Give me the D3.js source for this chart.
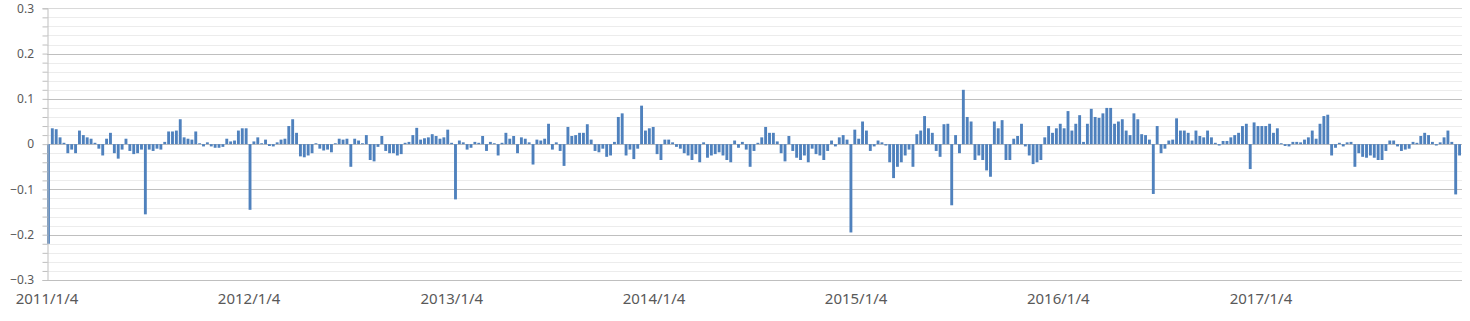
<!DOCTYPE html>
<html>
    <head>
        <title>Weekly returns</title>
        <meta charset="utf-8">
        <script src="https://cdnjs.cloudflare.com/ajax/libs/d3/7.8.5/d3.min.js"></script>
        <style>
            body{
                margin:0;
                background:#fff;
            }
            text{
                font-family:"Noto Sans", sans-serif;
                fill:#595959;
            }
        </style>
    </head>
    <body>
        <script>

            // first trading week of the series, then one value per week
            var startDate = "2011/1/4";

            var weekValues = [
                -0.22, 0.035, 0.033, 0.015, 0.003, -0.02, -0.012, -0.02, 0.03, 0.02,
                0.015, 0.012, 0.003, -0.01, -0.025, 0.012, 0.025, -0.02, -0.032, -0.012,
                0.012, -0.015, -0.022, -0.02, -0.012, -0.155, -0.012, -0.015, -0.01, -0.012,
                0.005, 0.028, 0.028, 0.03, 0.055, 0.015, 0.012, 0.01, 0.028, 0.002,
                -0.005, 0.004, -0.005, -0.008, -0.008, -0.006, 0.012, 0.006, 0.008, 0.03,
                0.035, 0.035, -0.145, 0.006, 0.015, 0.002, 0.01, -0.004, -0.005, 0.004,
                0.01, 0.012, 0.04, 0.055, 0.025, -0.027, -0.029, -0.025, -0.02, 0.002,
                -0.01, -0.014, -0.012, -0.018, 0.002, 0.012, 0.01, 0.012, -0.05, 0.012,
                0.008, 0.002, 0.02, -0.035, -0.038, -0.006, 0.018, -0.015, -0.02, -0.02,
                -0.025, -0.022, 0.003, 0.005, 0.02, 0.036, 0.01, 0.013, 0.015, 0.022,
                0.018, 0.012, 0.015, 0.032, 0.003, -0.122, 0.008, 0.004, -0.012, -0.008,
                0.005, 0.003, 0.018, -0.015, 0.005, 0.002, -0.025, 0.003, 0.025, 0.012,
                0.018, -0.02, 0.015, 0.012, 0.004, -0.045, 0.01, 0.008, 0.012, 0.045,
                -0.012, 0.004, -0.015, -0.048, 0.038, 0.018, 0.02, 0.025, 0.025, 0.044,
                0.01, -0.015, -0.018, -0.01, -0.028, -0.025, 0.005, 0.06, 0.068, -0.025,
                -0.012, -0.033, -0.01, 0.085, 0.03, 0.035, 0.038, -0.022, -0.035, 0.01,
                0.01, 0.004, -0.006, -0.01, -0.02, -0.025, -0.035, -0.022, -0.04, 0.004,
                -0.03, -0.025, -0.022, -0.018, -0.025, -0.035, -0.04, 0.008, -0.008, 0.005,
                -0.012, -0.05, -0.015, 0.003, 0.015, 0.038, 0.025, 0.025, 0.006, -0.02,
                -0.038, 0.018, -0.015, -0.03, -0.035, -0.025, -0.04, -0.01, -0.022, -0.025,
                -0.035, -0.015, 0.008, -0.005, 0.015, 0.02, 0.01, -0.195, 0.032, 0.012,
                0.05, 0.03, -0.015, -0.005, 0.008, 0.004, -0.003, -0.04, -0.075, -0.05,
                -0.04, -0.025, -0.012, -0.05, 0.022, 0.03, 0.062, 0.035, 0.025, -0.015,
                -0.028, 0.044, 0.045, -0.135, 0.02, -0.02, 0.12, 0.06, 0.05, -0.035,
                -0.025, -0.035, -0.058, -0.072, 0.05, 0.035, 0.053, -0.035, -0.035, 0.012,
                0.018, 0.045, -0.005, -0.025, -0.044, -0.04, -0.035, 0.015, 0.04, 0.025,
                0.035, 0.045, 0.035, 0.073, 0.03, 0.045, 0.064, 0.005, 0.045, 0.078,
                0.06, 0.058, 0.068, 0.08, 0.08, 0.045, 0.05, 0.055, 0.03, 0.02,
                0.068, 0.055, 0.022, 0.02, 0.01, -0.11, 0.04, -0.02, -0.01, 0.008,
                0.01, 0.057, 0.03, 0.03, 0.025, 0.008, 0.03, 0.018, 0.015, 0.03,
                0.015, 0.003, -0.003, 0.007, 0.007, 0.015, 0.02, 0.025, 0.04, 0.045,
                -0.055, 0.048, 0.04, 0.04, 0.04, 0.045, 0.025, 0.035, 0.002, -0.004,
                -0.005, 0.005, 0.005, 0.004, 0.01, 0.015, 0.03, 0.012, 0.045, 0.062,
                0.065, -0.025, -0.008, 0.003, -0.005, 0.004, 0.005, -0.05, -0.02, -0.028,
                -0.03, -0.025, -0.03, -0.035, -0.035, -0.015, 0.008, 0.008, -0.005, -0.015,
                -0.012, -0.01, 0.005, 0.003, 0.018, 0.025, 0.02, 0.005, -0.003, 0.004,
                0.015, 0.03, 0.005, -0.111, -0.025
            ];

            var xTickLabels = ["2011/1/4", "2012/1/4", "2013/1/4", "2014/1/4", "2015/1/4", "2016/1/4", "2017/1/4"];
            var yMajorTicks = [0.3, 0.2, 0.1, 0, -0.1, -0.2, -0.3];

            //Width and height
            var width = 1470;
            var height = 321;
            var margin = {top: 8.3, right: 8, bottom: 41, left: 47};

            var parse = d3.timeParse("%Y/%m/%d");
            var start = parse(startDate);

            var data = weekValues.map(function(v, i) {
              return {date: d3.timeDay.offset(start, 7 * i), value: v};
            });

            var x = d3.scaleTime()
                    .domain([start, d3.timeDay.offset(start, 7 * weekValues.length)])
                    .range([margin.left, width - margin.right]);

            var y = d3.scaleLinear()
                    .domain([-0.3, 0.3])
                    .range([height - margin.bottom, margin.top]);

            var svg = d3.select("body")
                    .append("svg")
                    .attr("width", width)
                    .attr("height", height);

            // minor grid every 0.02
            var minorTicks = d3.range(-15, 16).map(function(k) { return k / 50; });

            svg.append("g")
                    .selectAll("line")
                    .data(minorTicks.filter(function(t) { return Math.abs(Math.round(t * 10) - t * 10) > 1e-6; }))
                    .enter()
                    .append("line")
                    .attr("x1", margin.left)
                    .attr("x2", width - margin.right)
                    .attr("y1", function(d) { return Math.round(y(d)) + 0.5; })
                    .attr("y2", function(d) { return Math.round(y(d)) + 0.5; })
                    .attr("stroke", "#ececec");

            // major grid every 0.1
            svg.append("g")
                    .selectAll("line")
                    .data(yMajorTicks)
                    .enter()
                    .append("line")
                    .attr("x1", margin.left)
                    .attr("x2", width - margin.right)
                    .attr("y1", function(d) { return Math.round(y(d)) + 0.5; })
                    .attr("y2", function(d) { return Math.round(y(d)) + 0.5; })
                    .attr("stroke", function(d) { return d === 0.3 ? "#d9d9d9" : "#bfbfbf"; });

            // bars, one per week, nearly touching like the dense daily bars
            var barW = x(d3.timeDay.offset(start, 7)) - x(start) - 1;

            svg.append("g")
                    .selectAll("rect")
                    .data(data)
                    .enter()
                    .append("rect")
                    .attr("x", function(d) { return x(d.date); })
                    .attr("width", barW)
                    .attr("y", function(d) { return y(Math.max(0, d.value)); })
                    .attr("height", function(d) { return Math.abs(y(d.value) - y(0)); })
                    .attr("fill", "#4f81bd");

            // left axis with ticks every 0.02
            var yAxis = d3.axisLeft(y)
                    .tickValues(minorTicks)
                    .tickSize(5)
                    .tickFormat("");

            var gy = svg.append("g")
                    .attr("transform", "translate(" + (margin.left + 0.5) + ",0)")
                    .call(yAxis);
            gy.selectAll("line").attr("stroke", "#bfbfbf");
            gy.select(".domain").attr("stroke", "#bfbfbf");

            svg.append("g")
                    .selectAll("text")
                    .data(yMajorTicks)
                    .enter()
                    .append("text")
                    .attr("x", 34)
                    .attr("y", function(d) { return y(d); })
                    .attr("dy", "0.35em")
                    .attr("text-anchor", "end")
                    .style("font-size", "12px")
                    .text(function(d) { return d3.format("")(d); });

            // bottom labels
            svg.append("g")
                    .selectAll("text")
                    .data(xTickLabels)
                    .enter()
                    .append("text")
                    .attr("x", function(d) { return x(parse(d)); })
                    .attr("y", 304)
                    .attr("text-anchor", "middle")
                    .style("font-size", "15px")
                    .text(function(d) { return d; });

        </script>
    </body>
</html>
